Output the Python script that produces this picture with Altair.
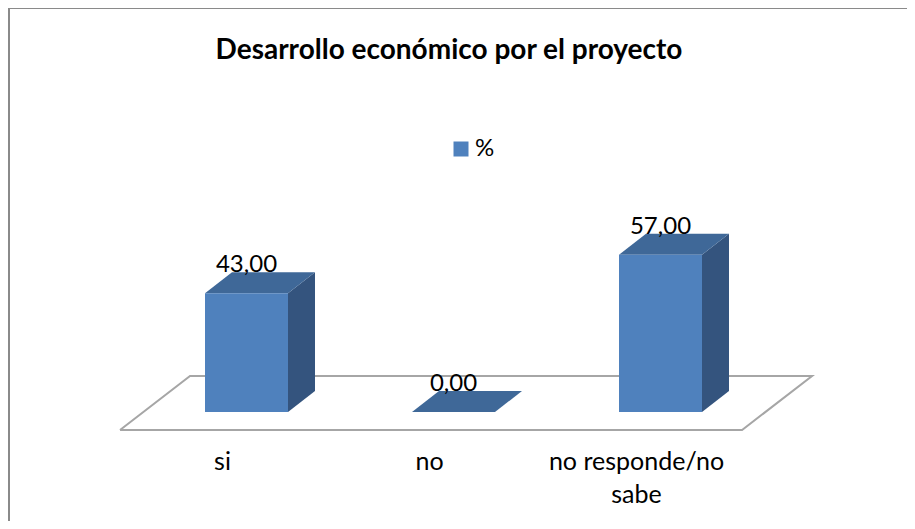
import altair as alt
import pandas as pd

# ---- data ----
categories = ["si", "no", "no responde/no sabe"]
tick_labels = ["si", "no", "no responde/no\nsabe"]
values = [43.0, 0.0, 57.0]
series_name = "%"
title_text = "Desarrollo económico por el proyecto"

# ---- layout / style constants ----
W, H = 899, 513
FONT = "Lato"
FRONT = "#4F81BD"
TOP = "#3F6898"
SIDE = "#34547E"
FLOOR = "#A6A6A6"
BORDER = "#8A8A8A"

PX_CAT = 207.0          # pixels per category step
PX_PCT = 2.76           # pixels per percentage point
HALF = 41.5 / PX_CAT    # half bar width (category units)
DXU = 27 / PX_CAT       # bar depth, x (category units)
DYU = 21 / PX_PCT       # bar depth, y (percent units)
FLOOR_DX = 70 / PX_CAT
FLOOR_DY = 54 / PX_PCT
FLOOR_FRONT = -18 / PX_PCT
FLOOR_L = -0.611
FLOOR_R = FLOOR_L + len(categories) * 1.0 + 0.005

xs = alt.Scale(domain=[0, 2], range=[238.5, 238.5 + 2 * PX_CAT])
ys = alt.Scale(domain=[0, 100], range=[404, 404 - 100 * PX_PCT])

idx = list(range(len(categories)))

front = pd.DataFrame({
    "cat": categories, "series": series_name,
    "x": [i - HALF for i in idx], "x2": [i + HALF for i in idx],
    "v": values, "zero": [0.0] * len(values),
})

side_rows, top_rows = [], []
for i, c, v in zip(idx, categories, values):
    side_rows.append({"cat": c, "x": i + HALF, "y": v, "y2": 0.0})
    side_rows.append({"cat": c, "x": i + HALF + DXU, "y": v + DYU, "y2": DYU})
    top_rows.append({"cat": c, "y": v, "x": i - HALF, "x2": i + HALF})
    top_rows.append({"cat": c, "y": v + DYU, "x": i - HALF + DXU, "x2": i + HALF + DXU})
side = pd.DataFrame(side_rows)
top = pd.DataFrame(top_rows)

floor = pd.DataFrame({
    "o": [0, 1, 2, 3, 4],
    "x": [FLOOR_L, FLOOR_R, FLOOR_R + FLOOR_DX, FLOOR_L + FLOOR_DX, FLOOR_L],
    "y": [FLOOR_FRONT, FLOOR_FRONT, FLOOR_FRONT + FLOOR_DY, FLOOR_FRONT + FLOOR_DY, FLOOR_FRONT],
})

labels = pd.DataFrame({
    "i": idx, "lab": [f"{v:.2f}".replace(".", ",") for v in values],
    "y": [v + DYU for v in values],
})
ticks = pd.DataFrame({"i": idx, "lab": tick_labels})

X = lambda f: alt.X(f, type="quantitative", scale=xs, axis=None)
Y = lambda f: alt.Y(f, type="quantitative", scale=ys, axis=None)

one = pd.DataFrame({"a": [0]})
border_left = alt.Chart(one).mark_rule(color=BORDER, strokeWidth=2).encode(
    x=alt.value(1), y=alt.value(0), y2=alt.value(H))
border_top = alt.Chart(one).mark_rule(color=BORDER, strokeWidth=2).encode(
    x=alt.value(0), x2=alt.value(W), y=alt.value(0))

floor_l = alt.Chart(floor).mark_line(color=FLOOR, strokeWidth=2).encode(
    x=X("x"), y=Y("y"), order="o:Q")

side_l = alt.Chart(side).mark_area(color=SIDE).encode(
    x=X("x"), y=Y("y"), y2="y2", detail="cat:N")

top_l = alt.Chart(top).mark_area(color=TOP, orient="horizontal").encode(
    y=Y("y"), x=X("x"), x2="x2", detail="cat:N")

front_l = alt.Chart(front).mark_rect().encode(
    x=X("x"), x2="x2", y=Y("v"), y2="zero",
    color=alt.Color("series:N", scale=alt.Scale(domain=[series_name], range=[FRONT]),
                    legend=alt.Legend(orient="none", legendX=441, legendY=129, title=None,
                                      symbolType="square", symbolSize=225, symbolStrokeWidth=0,
                                      labelFont=FONT, labelFontSize=24, labelColor="black",
                                      labelOffset=2)))

val_l = alt.Chart(labels).mark_text(font=FONT, fontSize=24, baseline="alphabetic", color="black").encode(
    x=X("i"), y=Y("y"), text="lab:N")

tick_l = alt.Chart(ticks).mark_text(font=FONT, fontSize=25, baseline="alphabetic", color="black",
                                    lineBreak="\n", lineHeight=33, dx=-24).encode(
    x=X("i"), y=alt.value(462), text="lab:N")

title_l = alt.Chart(pd.DataFrame({"t": [title_text]})).mark_text(
    font=FONT, fontSize=28, fontWeight="bold", baseline="alphabetic", color="black"
).encode(x=alt.value(441), y=alt.value(51), text="t:N")

chart = alt.layer(border_left, border_top, floor_l, side_l, top_l, front_l, val_l, tick_l,
                  title_l).properties(
    width=W, height=H, padding=0, autosize=alt.AutoSizeParams(type="none")
).configure_view(stroke="transparent", strokeWidth=0)

chart.save("out.html", embed_options={"renderer": "svg", "actions": False})
